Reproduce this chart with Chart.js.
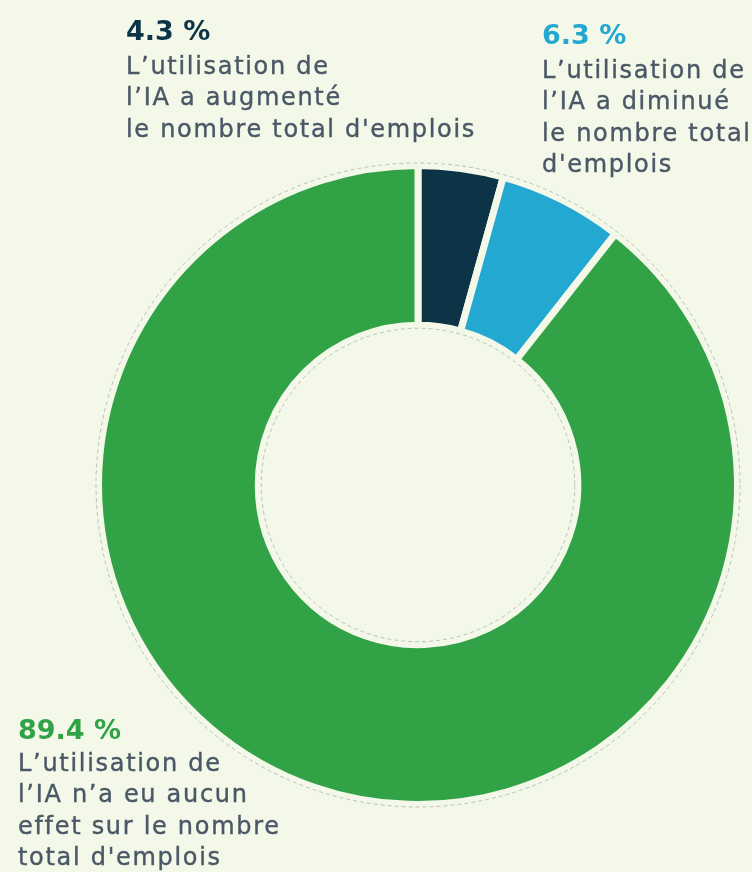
<!DOCTYPE html>
<html>
<head>
<meta charset="utf-8">
<script src="https://cdn.jsdelivr.net/npm/chart.js@4"></script>
<style>
  html, body { margin: 0; padding: 0; background: #f3f8e9; }
  #wrap { position: relative; width: 752px; height: 872px; overflow: hidden; }
  #chart { position: absolute; left: 0; top: 0; }
  .lbl { position: absolute; font-family: "DejaVu Sans", sans-serif; font-size: 24px; line-height: 31.5px; letter-spacing: 1.7px; color: #4a5866; white-space: nowrap; -webkit-text-stroke: 0.4px #4a5866; }
  .lbl b { display: block; font-size: 27px; letter-spacing: 0; -webkit-text-stroke: 0; }
</style>
</head>
<body>
<div id="wrap">
  <canvas id="chart" width="752" height="872"></canvas>
</div>
<script>
const labels = [
  "L’utilisation de l’IA a augmenté le nombre total d'emplois",
  "L’utilisation de l’IA a diminué le nombre total d'emplois",
  "L’utilisation de l’IA n’a eu aucun effet sur le nombre total d'emplois"
]
const values = [4.3, 6.3, 89.4]
const valueText = ["4.3 %", "6.3 %", "89.4 %"]
const labelLines = [
  ["L’utilisation de", "l’IA a augmenté", "le nombre total d'emplois"],
  ["L’utilisation de", "l’IA a diminué", "le nombre total", "d'emplois"],
  ["L’utilisation de", "l’IA n’a eu aucun", "effet sur le nombre", "total d'emplois"]
]
const colors = ["#0c3446", "#23a8d2", "#31a245"]
const bg = "#f3f8e9"

// where each text block sits on the page
const labelPos = [
  {left: 126, top: 12, head: 38.5},
  {left: 542, top: 16, head: 38.5},
  {left: 18, top: 713, head: 34.5}
]

const wrap = document.getElementById("wrap")
labelLines.forEach((lines, i) => {
  let d = document.createElement("div")
  d.className = "lbl"
  d.style.left = labelPos[i].left + "px"
  d.style.top = labelPos[i].top + "px"
  let b = document.createElement("b")
  b.textContent = valueText[i]
  b.style.color = colors[i]
  b.style.lineHeight = labelPos[i].head + "px"
  d.appendChild(b)
  lines.forEach(t => {
    let s = document.createElement("div")
    s.textContent = t
    d.appendChild(s)
  })
  wrap.appendChild(d)
})

// faint dashed guide circles around the ring
const guides = {
  id: "guides",
  afterDatasetsDraw(chart) {
    const arc = chart.getDatasetMeta(0).data[0]
    if (!arc) return
    const ctx = chart.ctx
    ctx.save()
    ctx.strokeStyle = "rgba(120,130,130,0.45)"
    ctx.lineWidth = 1
    ctx.setLineDash([4, 3])
    ctx.beginPath()
    ctx.arc(arc.x, arc.y, arc.outerRadius + 2.5, 0, Math.PI * 2)
    ctx.stroke()
    ctx.beginPath()
    ctx.arc(arc.x, arc.y, arc.innerRadius - 3, 0, Math.PI * 2)
    ctx.stroke()
    ctx.restore()
  }
}

new Chart(document.getElementById("chart"), {
  type: "doughnut",
  data: {
    labels: labels,
    datasets: [{
      data: values,
      backgroundColor: colors,
      borderColor: bg,
      borderWidth: 7,
      hoverOffset: 0
    }]
  },
  options: {
    responsive: false,
    animation: false,
    cutout: "50%",
    layout: { padding: { left: 95, top: 162, right: 11, bottom: 64 } },
    plugins: {
      legend: { display: false },
      tooltip: { enabled: false }
    }
  },
  plugins: [guides]
})
</script>
</body>
</html>
